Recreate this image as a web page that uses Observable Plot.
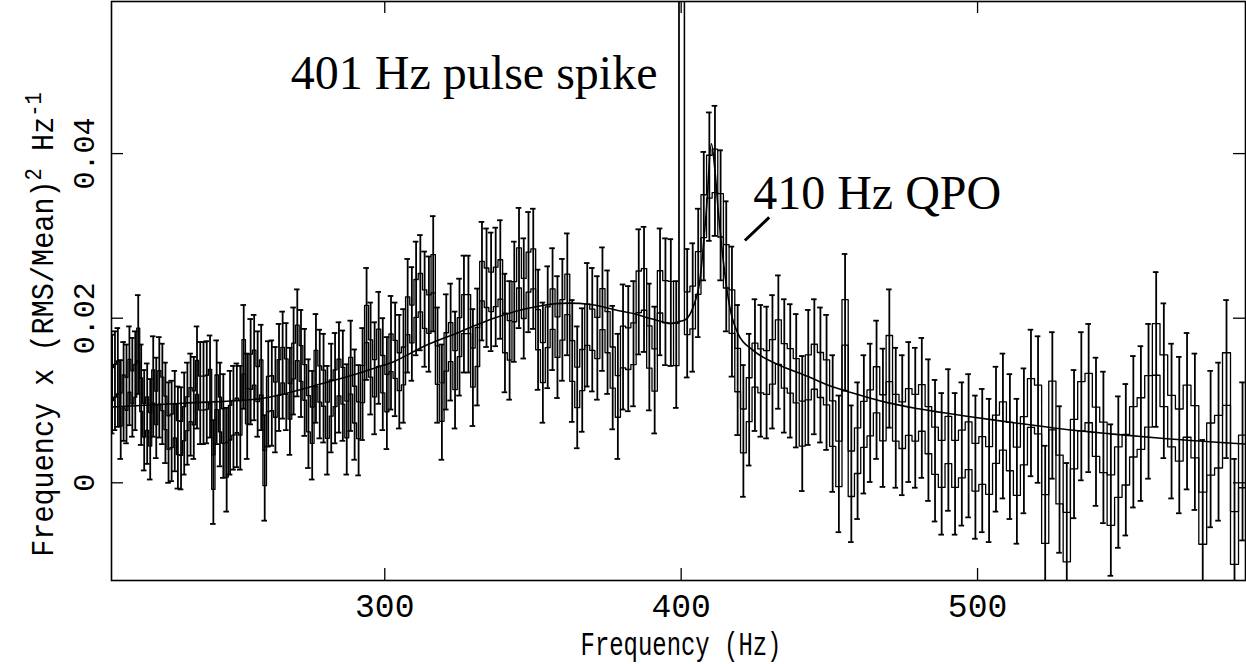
<!DOCTYPE html>
<html>
<head>
<meta charset="utf-8">
<script src="https://cdn.jsdelivr.net/npm/d3@7"></script>
<script src="https://cdn.jsdelivr.net/npm/@observablehq/plot@0.6"></script>
<style>
  html, body { margin: 0; padding: 0; background: #fff; }
  #chart { width: 1246px; height: 664px; }
</style>
</head>
<body>
<div id="chart"></div>
<script>
// Logarithmically binned power spectrum: bin centre (Hz)
const binCenter = [
  208.01, 208.97, 209.94, 210.91, 211.88, 212.86, 213.84, 214.83, 215.82, 216.82,
  217.82, 218.83, 219.84, 220.86, 221.88, 222.90, 223.93, 224.96, 226.00, 227.04,
  228.09, 229.14, 230.20, 231.26, 232.33, 233.40, 234.48, 235.56, 236.65, 237.74,
  238.84, 239.94, 241.05, 242.16, 243.28, 244.40, 245.53, 246.66, 247.80, 248.94,
  250.09, 251.25, 252.41, 253.58, 254.75, 255.93, 257.11, 258.30, 259.49, 260.69,
  261.89, 263.10, 264.32, 265.54, 266.77, 268.00, 269.24, 270.48, 271.73, 272.98,
  274.24, 275.51, 276.78, 278.06, 279.34, 280.63, 281.93, 283.23, 284.54, 285.85,
  287.17, 288.50, 289.83, 291.17, 292.51, 293.86, 295.22, 296.58, 297.95, 299.33,
  300.71, 302.10, 303.50, 304.90, 306.31, 307.72, 309.14, 310.57, 312.00, 313.44,
  314.89, 316.34, 317.80, 319.27, 320.74, 322.22, 323.71, 325.21, 326.71, 328.22,
  329.74, 331.26, 332.79, 334.33, 335.87, 337.42, 338.98, 340.55, 342.12, 343.70,
  345.29, 346.89, 348.49, 350.10, 351.72, 353.34, 354.97, 356.61, 358.26, 359.92,
  361.58, 363.25, 364.93, 366.62, 368.31, 370.01, 371.72, 373.44, 375.17, 376.90,
  378.64, 380.39, 382.15, 383.92, 385.69, 387.47, 389.26, 391.06, 392.87, 394.69,
  396.51, 398.34, 400.18,
  402.03, 403.89, 405.75, 407.63, 409.51, 411.40, 413.30, 415.21, 417.13, 419.06,
  420.99, 422.94, 424.89, 426.85, 428.82, 430.80, 432.79, 434.79, 436.80, 438.82,
  440.85, 442.88, 444.93, 446.98, 449.05, 451.12, 453.21, 455.30, 457.41, 459.52,
  461.64, 463.77, 465.92, 468.07, 470.23, 472.40, 474.59, 476.78, 478.98, 481.19,
  483.42, 485.65, 487.89, 490.15, 492.41, 494.69, 496.97, 499.27, 501.58, 503.89,
  506.22, 508.56, 510.91, 513.27, 515.64, 518.02, 520.41, 522.82, 525.23, 527.66,
  530.10, 532.55, 535.01, 537.48, 539.96, 542.46, 544.97, 547.49, 550.02, 552.56,
  555.11, 557.68, 560.26, 562.85, 565.45, 568.06, 570.68, 573.32, 575.97, 578.63,
  581.30, 583.99, 586.69, 589.40
];
// Frequency x (RMS/Mean)^2 / Hz in each bin (the 400 Hz bin holds the pulse spike)
const binValue = [
  0.0120, 0.0124, 0.0128, 0.0089, 0.0111, 0.0108, 0.0130, 0.0116, 0.0124, 0.0168,
  0.0107, 0.0076, 0.0084, 0.0065, 0.0117, 0.0091, 0.0116, 0.0108, 0.0085, 0.0061,
  0.0063, 0.0075, 0.0055, 0.0054, 0.0072, 0.0084, 0.0095, 0.0091, 0.0128, 0.0109,
  0.0109, 0.0110, 0.0117, 0.0013, 0.0110, 0.0083, 0.0069, 0.0028, 0.0073, 0.0079,
  0.0082, 0.0079, 0.0153, 0.0093, 0.0135, 0.0140, 0.0120, 0.0128, 0.0018, 0.0108,
  0.0109, 0.0101, 0.0128, 0.0143, 0.0129, 0.0099, 0.0148, 0.0170, 0.0145, 0.0122,
  0.0084, 0.0070, 0.0139, 0.0120, 0.0115, 0.0076, 0.0103, 0.0115, 0.0128, 0.0118,
  0.0077, 0.0130, 0.0095, 0.0076, 0.0120, 0.0193, 0.0151, 0.0127, 0.0164, 0.0132,
  0.0109, 0.0158, 0.0150, 0.0135, 0.0142, 0.0203, 0.0193, 0.0224, 0.0231, 0.0211,
  0.0205, 0.0254, 0.0143, 0.0098, 0.0159, 0.0171, 0.0137, 0.0177, 0.0205, 0.0205,
  0.0140, 0.0165, 0.0245, 0.0237, 0.0232, 0.0238, 0.0247, 0.0182, 0.0173, 0.0220,
  0.0261, 0.0224, 0.0256, 0.0260, 0.0186, 0.0146, 0.0189, 0.0211, 0.0177, 0.0198,
  0.0229, 0.0148, 0.0116, 0.0137, 0.0192, 0.0186, 0.0176, 0.0211, 0.0183, 0.0140,
  0.0105, 0.0165, 0.0163, 0.0169, 0.0232, 0.0235, 0.0165, 0.0137, 0.0232, 0.0220,
  0.0219, 0.0168, 0.0900,
  0.0206, 0.0213, 0.0255, 0.0324, 0.0372, 0.0379, 0.0325, 0.0263, 0.0208, 0.0137,
  0.0063, 0.0101, 0.0143, 0.0136, 0.0134, 0.0147, 0.0171, 0.0142, 0.0136, 0.0124,
  0.0072, 0.0128, 0.0141, 0.0131, 0.0122, 0.0072, 0.0023, 0.0195, 0.0011, 0.0039,
  0.0071, 0.0085, 0.0113, 0.0079, 0.0151, 0.0079, 0.0070, 0.0086, 0.0079, 0.0091,
  0.0064, 0.0039, 0.0023, 0.0052, 0.0023, 0.0035, 0.0045, 0.0019, 0.0027, 0.0015,
  0.0053, 0.0069, 0.0044, 0.0014, 0.0051, 0.0097, 0.0089, -0.0044, 0.0094, 0.0004,
  -0.0066, 0.0047, 0.0093, 0.0103, 0.0062, 0.0043, -0.0021, 0.0013, 0.0028, 0.0062,
  0.0072, 0.0099, 0.0162, 0.0124, 0.0075, 0.0058, 0.0087, 0.0062, -0.0043, 0.0041,
  0.0050, 0.0126, -0.0067, 0.0026
];
// 1-sigma uncertainty of each bin
const binError = [
  0.0060, 0.0060, 0.0060, 0.0060, 0.0060, 0.0060, 0.0060, 0.0060, 0.0060, 0.0060,
  0.0061, 0.0061, 0.0061, 0.0061, 0.0061, 0.0061, 0.0061, 0.0061, 0.0061, 0.0061,
  0.0061, 0.0061, 0.0062, 0.0062, 0.0062, 0.0062, 0.0062, 0.0062, 0.0062, 0.0062,
  0.0062, 0.0062, 0.0062, 0.0063, 0.0063, 0.0063, 0.0063, 0.0063, 0.0063, 0.0063,
  0.0063, 0.0063, 0.0063, 0.0064, 0.0064, 0.0064, 0.0064, 0.0064, 0.0064, 0.0064,
  0.0064, 0.0064, 0.0065, 0.0065, 0.0065, 0.0065, 0.0065, 0.0065, 0.0065, 0.0065,
  0.0066, 0.0066, 0.0066, 0.0066, 0.0066, 0.0066, 0.0066, 0.0067, 0.0067, 0.0067,
  0.0067, 0.0067, 0.0067, 0.0067, 0.0068, 0.0068, 0.0068, 0.0068, 0.0068, 0.0068,
  0.0068, 0.0069, 0.0069, 0.0069, 0.0069, 0.0069, 0.0069, 0.0069, 0.0070, 0.0070,
  0.0070, 0.0070, 0.0070, 0.0070, 0.0070, 0.0071, 0.0071, 0.0071, 0.0071, 0.0071,
  0.0071, 0.0071, 0.0072, 0.0072, 0.0072, 0.0072, 0.0072, 0.0072, 0.0072, 0.0073,
  0.0073, 0.0073, 0.0073, 0.0073, 0.0073, 0.0073, 0.0074, 0.0074, 0.0074, 0.0074,
  0.0074, 0.0074, 0.0074, 0.0075, 0.0075, 0.0075, 0.0075, 0.0075, 0.0075, 0.0075,
  0.0076, 0.0076, 0.0076, 0.0076, 0.0076, 0.0076, 0.0077, 0.0077, 0.0077, 0.0077,
  0.0077, 0.0077, 0.0078,
  0.0078, 0.0078, 0.0078, 0.0078, 0.0078, 0.0079, 0.0079, 0.0079, 0.0079, 0.0079,
  0.0080, 0.0080, 0.0080, 0.0080, 0.0080, 0.0081, 0.0081, 0.0081, 0.0081, 0.0081,
  0.0082, 0.0082, 0.0082, 0.0082, 0.0082, 0.0083, 0.0083, 0.0083, 0.0083, 0.0083,
  0.0084, 0.0084, 0.0084, 0.0084, 0.0084, 0.0085, 0.0085, 0.0085, 0.0085, 0.0085,
  0.0086, 0.0086, 0.0086, 0.0086, 0.0086, 0.0087, 0.0087, 0.0087, 0.0087, 0.0087,
  0.0088, 0.0088, 0.0088, 0.0088, 0.0088, 0.0089, 0.0089, 0.0089, 0.0089, 0.0089,
  0.0090, 0.0090, 0.0090, 0.0090, 0.0090, 0.0092, 0.0092, 0.0092, 0.0092, 0.0092,
  0.0094, 0.0094, 0.0094, 0.0094, 0.0094, 0.0095, 0.0095, 0.0095, 0.0095, 0.0095,
  0.0096, 0.0096, 0.0096, 0.0096
];

// Best-fit model: broad component plus the 410 Hz QPO
const modelFreq = [207.8, 232.0, 257.6, 266.0, 278.3, 288.4, 297.4, 302.6, 313.8, 325.1, 336.3, 347.6,
  353.2, 361.8, 369.6, 378.6, 384.2, 389.9, 396.6, 400.0, 401.8, 404.0, 406.3, 408.5, 410.2, 411.3,
  412.5, 414.2, 416.4, 419.2, 424.3, 432.1, 443.4, 449.0, 457.6, 468.8, 480.1, 496.9, 511.1, 527.9,
  544.8, 563.9, 590.4];
const modelPower = [0.0092, 0.00967, 0.0102, 0.0108, 0.0120, 0.0130, 0.01405, 0.01466, 0.01668, 0.0183, 0.01993, 0.02114,
  0.02154, 0.02183, 0.02166, 0.02093, 0.02053, 0.01993, 0.01939, 0.01965, 0.01993, 0.02134, 0.02458, 0.03309, 0.04119, 0.03835,
  0.03309, 0.02701, 0.02134, 0.0181, 0.01608, 0.01446, 0.01283, 0.01194, 0.01093, 0.0098, 0.00899, 0.00806, 0.00736, 0.00656,
  0.00595, 0.00535, 0.00472];

const xTicks = [300, 400, 500];
const yTicks = [0, 0.02, 0.04];
const yTickLabels = ["0", "0.02", "0.04"];

const spikeNote = [{f: 392.0, v: 0.0478, text: "401 Hz pulse spike"}];
const qpoNote = [{f: 424.3, v: 0.0333, text: "410 Hz QPO"}];
const qpoPointer = [{f1: 421.5, v1: 0.02944, f2: 429.7, v2: 0.03225}];

const W = 1246, H = 664;
const M = {top: 1, right: 1, bottom: 84, left: 111};
const plotW = W - M.left - M.right;
const plotH = H - M.top - M.bottom;

// bin edges half-way between neighbouring centres
const bins = binCenter.map((f, i) => {
  const prev = i > 0 ? binCenter[i - 1] : 2 * f - binCenter[i + 1];
  const next = i < binCenter.length - 1 ? binCenter[i + 1] : 2 * f - binCenter[i - 1];
  return {f, lo: (prev + f) / 2, hi: (f + next) / 2, v: binValue[i], e: binError[i]};
});
// each bin is outlined by a pair of histogram steps at +/- one third of its error
const boxFrac = 1 / 3;
const stepUpper = bins.flatMap(b => [{f: b.lo, y: b.v + b.e * boxFrac}, {f: b.hi, y: b.v + b.e * boxFrac}]);
const stepLower = bins.flatMap(b => [{f: b.lo, y: b.v - b.e * boxFrac}, {f: b.hi, y: b.v - b.e * boxFrac}]);
const model = modelFreq.map((f, i) => ({f, y: modelPower[i]}));

const monoFont = "Liberation Mono";
const ink = "#000";
const capHalf = 2.8; // px

const chart = Plot.plot({
  width: W, height: H,
  marginTop: M.top, marginRight: M.right, marginBottom: M.bottom, marginLeft: M.left,
  x: {domain: [207.8, 590.4], axis: null},
  y: {domain: [-0.01187, 0.05848], axis: null},
  style: {background: "#fff", fontFamily: monoFont},
  marks: [
    Plot.line(stepUpper, {x: "f", y: "y", stroke: ink, strokeWidth: 1.3, clip: true}),
    Plot.line(stepLower, {x: "f", y: "y", stroke: ink, strokeWidth: 1.3, clip: true}),
    Plot.ruleX(bins, {x: "f", y1: d => d.v - d.e, y2: d => d.v + d.e, stroke: ink, strokeWidth: 1.8, clip: true}),
    Plot.ruleY(bins, {y: d => d.v + d.e, x1: "f", x2: "f", insetLeft: -capHalf, insetRight: -capHalf,
      stroke: ink, strokeWidth: 1.8, clip: true}),
    Plot.ruleY(bins, {y: d => d.v - d.e, x1: "f", x2: "f", insetLeft: -capHalf, insetRight: -capHalf,
      stroke: ink, strokeWidth: 1.8, clip: true}),
    Plot.line(model, {x: "f", y: "y", curve: "monotone-x", stroke: ink, strokeWidth: 1.6, clip: true}),
    // inward ticks on all four sides
    Plot.tickX(xTicks, {x: d => d, insetTop: plotH - 12, stroke: ink, strokeWidth: 1.3}),
    Plot.tickX(xTicks, {x: d => d, insetBottom: plotH - 12, stroke: ink, strokeWidth: 1.3}),
    Plot.tickY(yTicks, {y: d => d, insetRight: plotW - 12, stroke: ink, strokeWidth: 1.3}),
    Plot.tickY(yTicks, {y: d => d, insetLeft: plotW - 12, stroke: ink, strokeWidth: 1.3}),
    Plot.frame({stroke: ink, strokeWidth: 1.6}),
    // tick labels
    Plot.text(xTicks, {x: d => d, frameAnchor: "bottom", dy: 36, lineAnchor: "bottom", textAnchor: "middle",
      text: d => String(d), fontSize: 33, fontFamily: monoFont, fill: ink, ariaLabel: "x-tick-label"}),
    Plot.text(yTicks, {y: d => d, frameAnchor: "left", dx: -27, rotate: -90, textAnchor: "middle", lineAnchor: "middle",
      text: (d, i) => yTickLabels[i], fontSize: 30, fontFamily: monoFont, fill: ink, ariaLabel: "y-tick-label"}),
    // annotations
    Plot.text(spikeNote, {x: "f", y: "v", text: "text", textAnchor: "end", lineAnchor: "bottom",
      fontFamily: "Liberation Serif", fontSize: 48, fill: ink}),
    Plot.text(qpoNote, {x: "f", y: "v", text: "text", textAnchor: "start", lineAnchor: "bottom",
      fontFamily: "Liberation Serif", fontSize: 48, fill: ink}),
    Plot.link(qpoPointer, {x1: "f1", y1: "v1", x2: "f2", y2: "v2", stroke: ink, strokeWidth: 3})
  ]
});

document.getElementById("chart").appendChild(chart);
const svg = d3.select(chart);

// axis lettering is a narrow typewriter face: squeeze along the reading direction
function squeeze(sel, s) {
  sel.each(function () {
    const x = +this.getAttribute("x") || 0, y = +this.getAttribute("y") || 0;
    this.removeAttribute("x"); this.removeAttribute("y");
    const t = this.getAttribute("transform") || "";
    this.setAttribute("transform", `${t} translate(${x},${y}) scale(${s},1)`);
  });
}
squeeze(svg.selectAll('g[aria-label="x-tick-label"] text'), 0.74);
squeeze(svg.selectAll('g[aria-label="y-tick-label"] text'), 0.72);

// axis titles
svg.append("text")
  .attr("text-anchor", "middle")
  .attr("font-family", monoFont).attr("font-size", 33).attr("fill", ink)
  .attr("transform", `translate(${M.left + plotW / 2 + 3}, 655) scale(0.725,1)`)
  .text("Frequency (Hz)");

const yTitle = svg.append("text")
  .attr("text-anchor", "middle")
  .attr("font-family", monoFont).attr("font-size", 32).attr("fill", ink);
yTitle.append("tspan").text("Frequency x (RMS/Mean)");
yTitle.append("tspan").attr("dy", -12).attr("font-size", 23).text("2");
yTitle.append("tspan").attr("dy", 12).text(" Hz");
yTitle.append("tspan").attr("dy", -12).attr("font-size", 23).text("-1");
const yLen = yTitle.node().getComputedTextLength();
yTitle.attr("transform", `translate(53, 324.5) rotate(-90) scale(${465 / yLen},1)`);
</script>
</body>
</html>
